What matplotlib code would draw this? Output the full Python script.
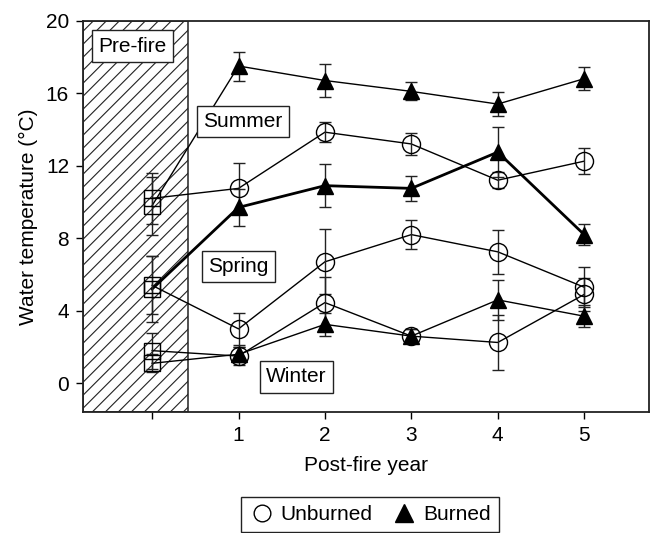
import matplotlib
matplotlib.use('Agg')
import matplotlib.pyplot as plt
import numpy as np
from matplotlib.patches import Rectangle
from matplotlib.lines import Line2D

plt.rcParams['font.family'] = ['Liberation Sans', 'DejaVu Sans']
plt.rcParams['font.size'] = 15

# Данные (0 = до пожара)
years = [0, 1, 2, 3, 4, 5]
xtick_labels = ['', '1', '2', '3', '4', '5']

summer_unb = [10.2, 10.75, 13.85, 13.2, 11.2, 12.25]
summer_unb_err = [1.4, 1.4, 0.55, 0.6, 0.45, 0.7]
summer_brn = [9.8, 17.5, 16.7, 16.1, 15.4, 16.8]
summer_brn_err = [1.6, 0.8, 0.9, 0.5, 0.65, 0.65]

spring_unb = [5.4, 3.0, 6.7, 8.2, 7.25, 5.3]
spring_unb_err = [1.6, 0.9, 1.8, 0.8, 1.2, 1.1]
spring_brn = [5.2, 9.7, 10.9, 10.75, 12.75, 8.2]
spring_brn_err = [1.8, 1.0, 1.2, 0.7, 1.4, 0.6]

winter_unb = [1.8, 1.5, 4.45, 2.6, 2.25, 4.9]
winter_unb_err = [1.0, 0.5, 1.4, 0.4, 1.5, 0.9]
winter_brn = [1.1, 1.6, 3.25, 2.6, 4.6, 3.7]
winter_brn_err = [0.5, 0.4, 0.65, 0.4, 1.1, 0.6]

fig = plt.figure(figsize=(6.56, 5.33), dpi=100)
ax = fig.add_axes([0.1265, 0.2265, 0.8628, 0.7347])

xmin, xmax = -0.8, 5.75
ymin, ymax = -1.6, 20
prefire_edge = 0.42
ax.set_xlim(xmin, xmax)
ax.set_ylim(ymin, ymax)

# Заштрихованная область "до пожара"
rect = Rectangle((xmin, ymin), prefire_edge - xmin, ymax - ymin,
                 facecolor='none', edgecolor='#333333', linewidth=1.2, zorder=1)
ax.add_patch(rect)
w_px, h_px = 566.0, 391.6
for off in np.arange(-420, 140, 13.0):
    x0 = off / w_px
    ln, = ax.plot([x0, x0 + 500 / w_px], [0, 500 / h_px], color='#222222', lw=0.8,
                  transform=ax.transAxes, zorder=1)
    ln.set_clip_path(rect)


def series(vals, errs, kind, lw):
    mk = 'o' if kind == 'unb' else '^'
    fc = 'none' if kind == 'unb' else 'black'
    ms = 13 if kind == 'unb' else 12
    ax.plot(years, vals, color='black', lw=lw, zorder=2)
    ax.errorbar(years, vals, yerr=errs, fmt='none', ecolor='#222222',
                elinewidth=1, capsize=4.5, capthick=1, zorder=3)
    ax.plot(years[:1], vals[:1], ls='none', marker='s', ms=11, mfc='none',
            mec='black', mew=1, zorder=4)
    ax.plot(years[1:], vals[1:], ls='none', marker=mk, ms=ms, mfc=fc,
            mec='black', mew=1, zorder=4)


series(summer_unb, summer_unb_err, 'unb', 1)
series(summer_brn, summer_brn_err, 'brn', 1)
series(spring_unb, spring_unb_err, 'unb', 1)
series(spring_brn, spring_brn_err, 'brn', 2)
series(winter_unb, winter_unb_err, 'unb', 1)
series(winter_brn, winter_brn_err, 'brn', 1)

box = dict(boxstyle='square,pad=0.3', facecolor='white', edgecolor='#222222', linewidth=1)
ax.text(-0.23, 18.6, 'Pre-fire', ha='center', va='center', bbox=box, zorder=6)
ax.text(1.05, 14.45, 'Summer', ha='center', va='center', bbox=box, zorder=6)
ax.text(1.0, 6.45, 'Spring', ha='center', va='center', bbox=box, zorder=6)
ax.text(1.67, 0.35, 'Winter', ha='center', va='center', bbox=box, zorder=6)

ax.set_xticks(years)
ax.set_xticklabels(xtick_labels)
ax.set_yticks([0, 4, 8, 12, 16, 20])
ax.tick_params(direction='out', length=5, width=1, pad=5)
for s in ax.spines.values():
    s.set_linewidth(1.3)
    s.set_color('#222222')

ax.set_xlabel('Post-fire year', labelpad=8)
ax.set_ylabel('Water temperature (\u00b0C)', labelpad=6)

handles = [Line2D([], [], ls='none', marker='o', ms=12, mfc='none', mec='black'),
           Line2D([], [], ls='none', marker='^', ms=13, mfc='black', mec='black')]
fig.legend(handles, ['Unburned', 'Burned'], ncol=2, loc='upper center',
           bbox_to_anchor=(0.564, 0.068), borderaxespad=0, fancybox=False,
           edgecolor='#222222', framealpha=1, handletextpad=0.3,
           columnspacing=0.9, handlelength=1.2, borderpad=0.4)

fig.savefig('out.png', dpi=100)
